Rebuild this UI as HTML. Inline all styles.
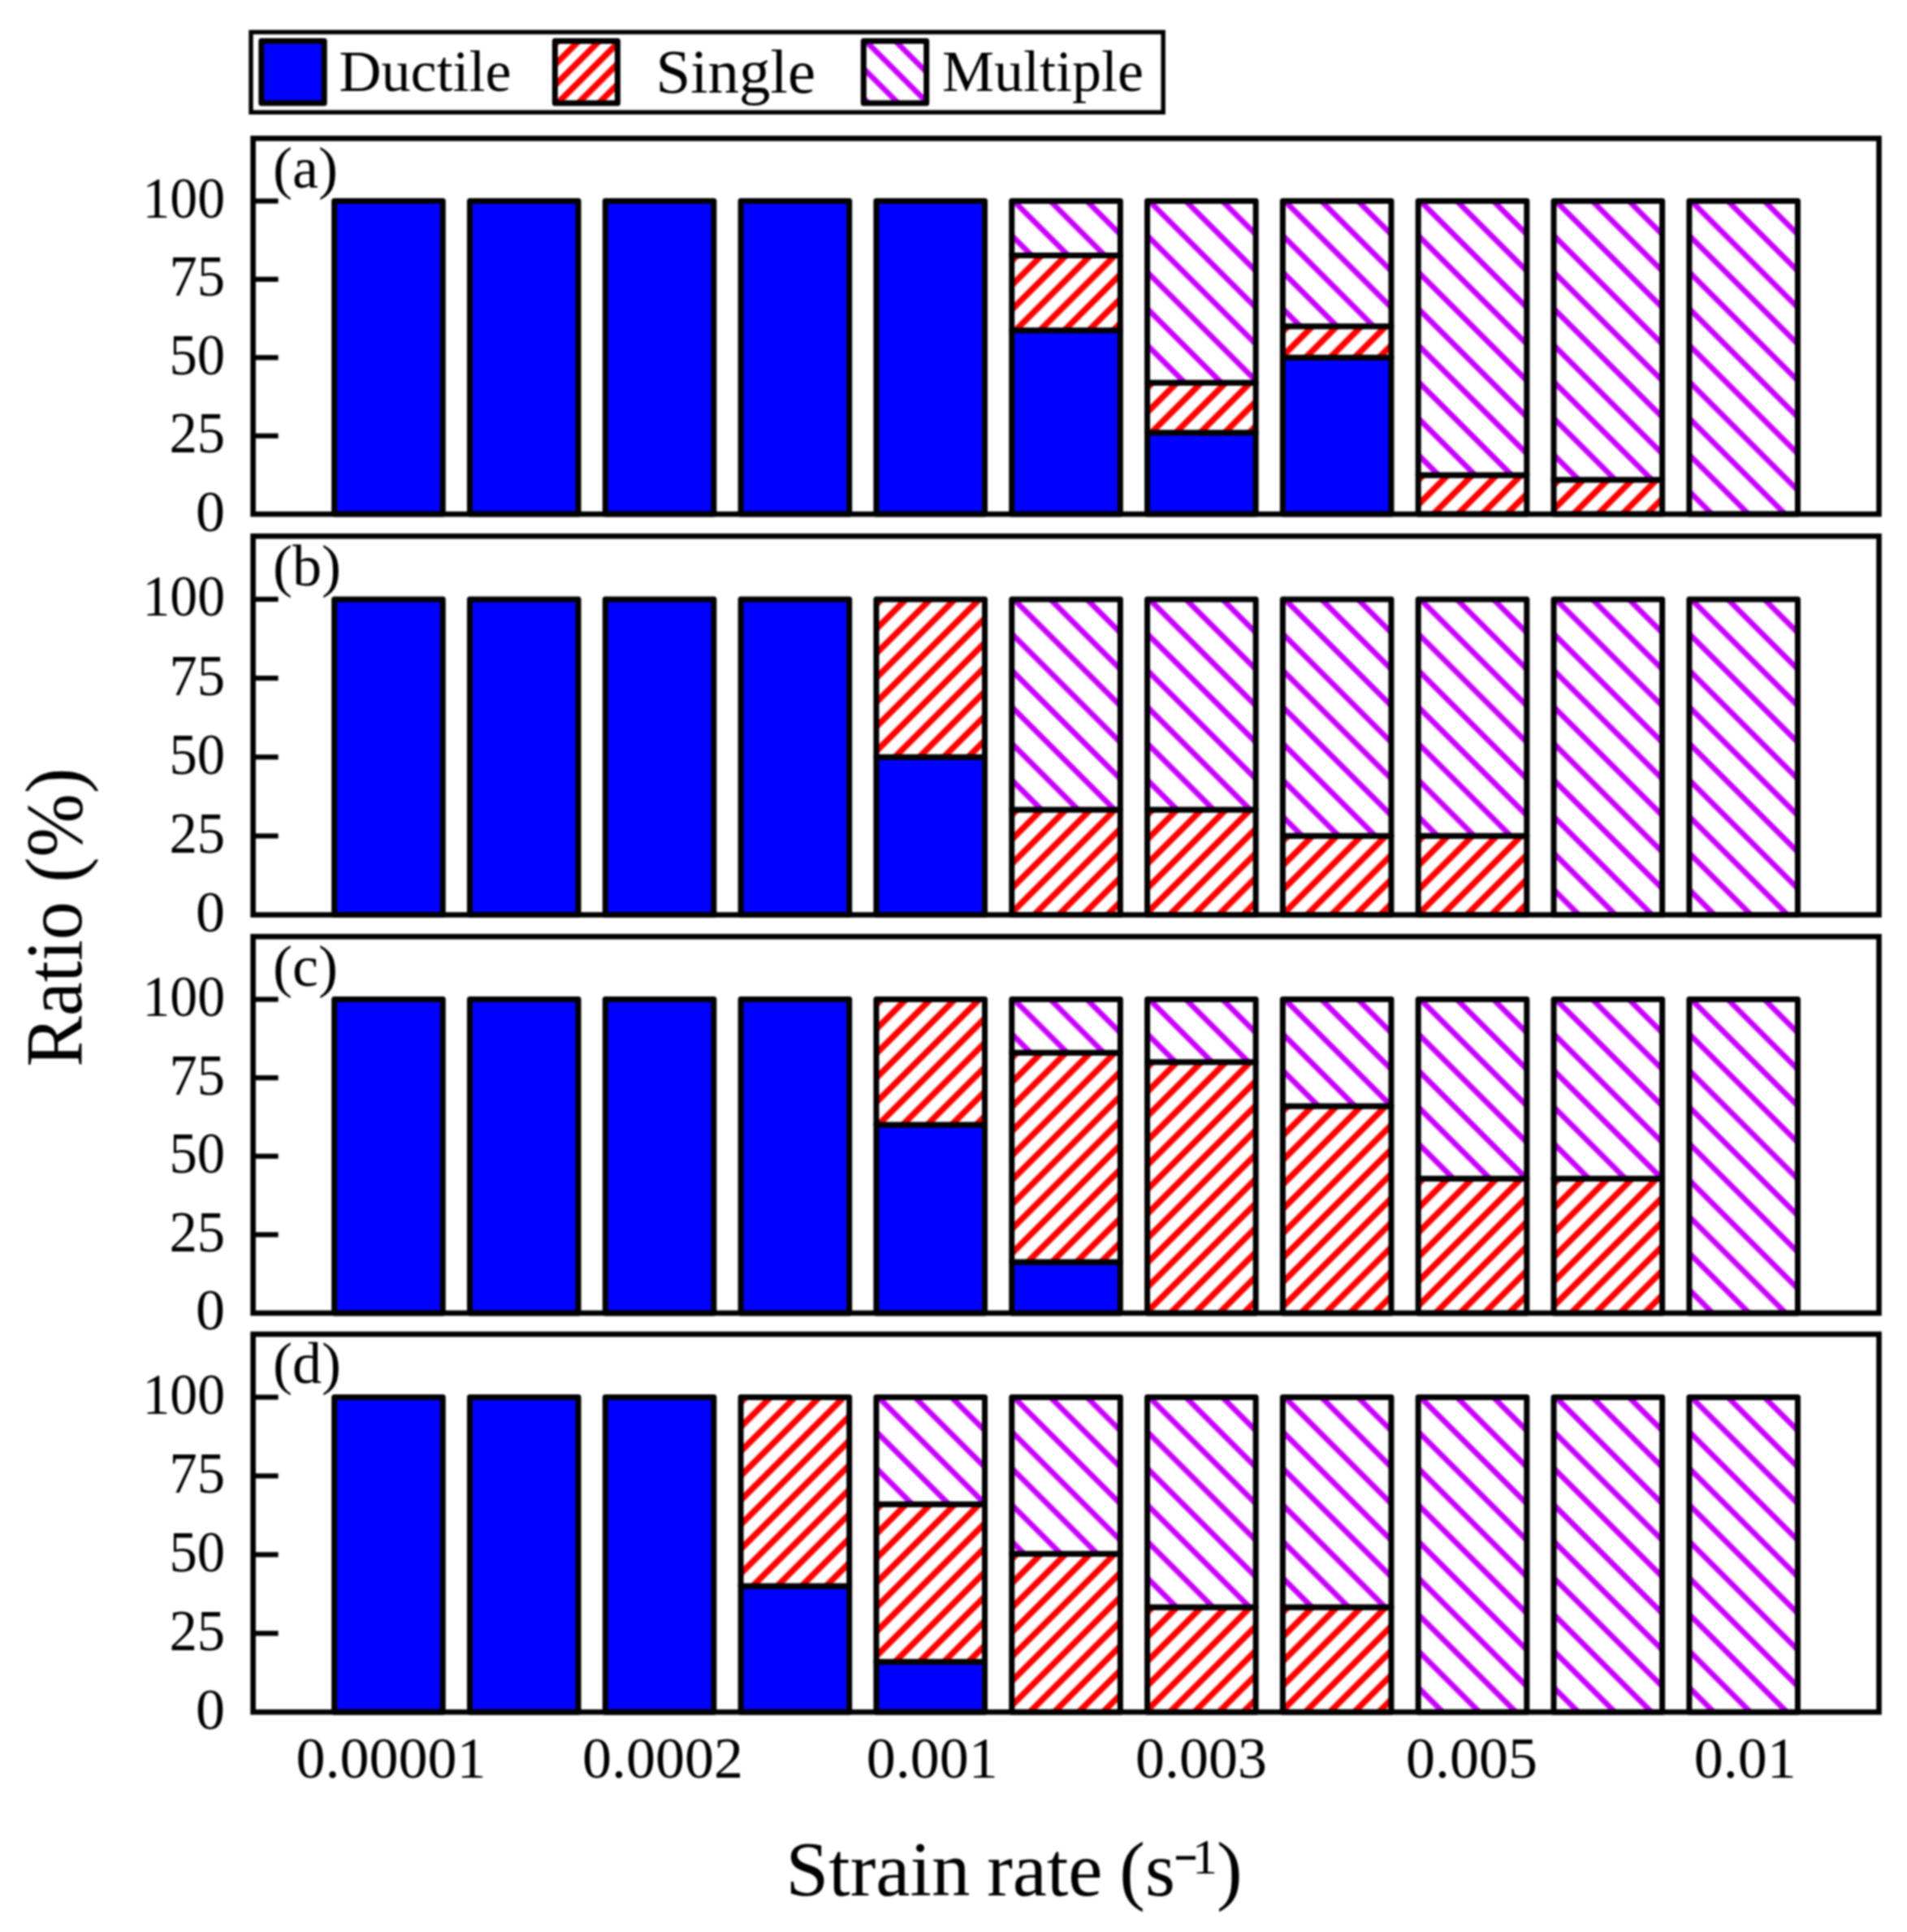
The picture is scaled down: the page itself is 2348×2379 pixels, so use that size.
<!DOCTYPE html>
<html lang="en"><head><meta charset="utf-8"><title>Ratio vs strain rate</title>
<style>html,body{margin:0;padding:0;background:#fff}body{width:2348px;height:2379px;overflow:hidden}svg{display:block;filter:blur(0.9px)}text{font-family:'Liberation Serif', serif;fill:#000}</style></head><body>
<svg width="2348" height="2379" viewBox="0 0 2348 2379" role="img" aria-label="Stacked bar chart of failure-mode ratio versus strain rate">
<rect x="0" y="0" width="2348" height="2379" fill="#fff"/>
<defs>
<pattern id="hr" patternUnits="userSpaceOnUse" width="21.28" height="40" patternTransform="rotate(45)"><rect x="0" y="0" width="21.28" height="40" fill="#fff"/><rect x="-20.49" y="0" width="7.6" height="40" fill="#ff0000"/><rect x="0.8" y="0" width="7.6" height="40" fill="#ff0000"/><rect x="22.08" y="0" width="7.6" height="40" fill="#ff0000"/></pattern>
<pattern id="hp" patternUnits="userSpaceOnUse" width="31.82" height="40" patternTransform="rotate(-45)"><rect x="0" y="0" width="31.82" height="40" fill="#fff"/><rect x="-33.45" y="0" width="6.8" height="40" fill="#c800ff"/><rect x="-1.63" y="0" width="6.8" height="40" fill="#c800ff"/><rect x="30.19" y="0" width="6.8" height="40" fill="#c800ff"/></pattern>
<pattern id="hrl" patternUnits="userSpaceOnUse" width="17.89" height="40" patternTransform="rotate(45)"><rect x="0" y="0" width="17.89" height="40" fill="#fff"/><rect x="-18.86" y="0" width="7.6" height="40" fill="#ff0000"/><rect x="-0.97" y="0" width="7.6" height="40" fill="#ff0000"/><rect x="16.92" y="0" width="7.6" height="40" fill="#ff0000"/></pattern>
<pattern id="hpl" patternUnits="userSpaceOnUse" width="25.81" height="40" patternTransform="rotate(-45)"><rect x="0" y="0" width="25.81" height="40" fill="#fff"/><rect x="-27.44" y="0" width="6.8" height="40" fill="#c800ff"/><rect x="-1.63" y="0" width="6.8" height="40" fill="#c800ff"/><rect x="24.18" y="0" width="6.8" height="40" fill="#c800ff"/></pattern>
</defs>
<g id="legend">
<rect x="309" y="39.6" width="1123.2" height="98.7" fill="#fff" stroke="#000" stroke-width="5.4"/>
<rect x="321.8" y="50.4" width="77.4" height="76.7" fill="#0000ff" stroke="#000" stroke-width="7" stroke-linejoin="round"/>
<g transform="translate(683.3,50.4)"><rect x="0" y="0" width="77.1" height="76.7" fill="url(#hrl)" stroke="#000" stroke-width="7" stroke-linejoin="round"/></g>
<g transform="translate(1063.3,50.4)"><rect x="0" y="0" width="77.4" height="76.7" fill="url(#hpl)" stroke="#000" stroke-width="7" stroke-linejoin="round"/></g>
<text x="417.5" y="112.3" font-size="72">Ductile</text>
<text x="807.4" y="114" font-size="77">Single</text>
<text x="1160" y="112.3" font-size="72">Multiple</text>
</g>
<g id="panel-a">
<rect x="411.63" y="247.52" width="133.6" height="385.58" fill="#0000ff" stroke="#000" stroke-width="7" stroke-linejoin="round"/>
<rect x="578.45" y="247.52" width="133.6" height="385.58" fill="#0000ff" stroke="#000" stroke-width="7" stroke-linejoin="round"/>
<rect x="745.28" y="247.52" width="133.6" height="385.58" fill="#0000ff" stroke="#000" stroke-width="7" stroke-linejoin="round"/>
<rect x="912.1" y="247.52" width="133.6" height="385.58" fill="#0000ff" stroke="#000" stroke-width="7" stroke-linejoin="round"/>
<rect x="1078.93" y="247.52" width="133.6" height="385.58" fill="#0000ff" stroke="#000" stroke-width="7" stroke-linejoin="round"/>
<rect x="1245.75" y="406.76" width="133.6" height="226.34" fill="#0000ff" stroke="#000" stroke-width="7" stroke-linejoin="round"/>
<g transform="translate(1245.75,314.61)"><rect x="0" y="0" width="133.6" height="92.15" fill="url(#hr)" stroke="#000" stroke-width="7" stroke-linejoin="round"/></g>
<g transform="translate(1245.75,247.52)"><rect x="0" y="0" width="133.6" height="67.09" fill="url(#hp)" stroke="#000" stroke-width="7" stroke-linejoin="round"/></g>
<rect x="1412.58" y="532.85" width="133.6" height="100.25" fill="#0000ff" stroke="#000" stroke-width="7" stroke-linejoin="round"/>
<g transform="translate(1412.58,471.16)"><rect x="0" y="0" width="133.6" height="61.69" fill="url(#hr)" stroke="#000" stroke-width="7" stroke-linejoin="round"/></g>
<g transform="translate(1412.58,247.52)"><rect x="0" y="0" width="133.6" height="223.64" fill="url(#hp)" stroke="#000" stroke-width="7" stroke-linejoin="round"/></g>
<rect x="1579.4" y="440.31" width="133.6" height="192.79" fill="#0000ff" stroke="#000" stroke-width="7" stroke-linejoin="round"/>
<g transform="translate(1579.4,401.75)"><rect x="0" y="0" width="133.6" height="38.56" fill="url(#hr)" stroke="#000" stroke-width="7" stroke-linejoin="round"/></g>
<g transform="translate(1579.4,247.52)"><rect x="0" y="0" width="133.6" height="154.23" fill="url(#hp)" stroke="#000" stroke-width="7" stroke-linejoin="round"/></g>
<g transform="translate(1746.23,584.9)"><rect x="0" y="0" width="133.6" height="48.2" fill="url(#hr)" stroke="#000" stroke-width="7" stroke-linejoin="round"/></g>
<g transform="translate(1746.23,247.52)"><rect x="0" y="0" width="133.6" height="337.39" fill="url(#hp)" stroke="#000" stroke-width="7" stroke-linejoin="round"/></g>
<g transform="translate(1913.05,590.69)"><rect x="0" y="0" width="133.6" height="42.41" fill="url(#hr)" stroke="#000" stroke-width="7" stroke-linejoin="round"/></g>
<g transform="translate(1913.05,247.52)"><rect x="0" y="0" width="133.6" height="343.17" fill="url(#hp)" stroke="#000" stroke-width="7" stroke-linejoin="round"/></g>
<g transform="translate(2079.88,247.52)"><rect x="0" y="0" width="133.6" height="385.58" fill="url(#hp)" stroke="#000" stroke-width="7" stroke-linejoin="round"/></g>
<rect x="311.6" y="170.4" width="2001.9" height="462.7" fill="none" stroke="#000" stroke-width="6.6"/>
<text x="277" y="653.6" font-size="72" text-anchor="end">0</text>
<line x1="311.6" y1="536.7" x2="342.6" y2="536.7" stroke="#000" stroke-width="6.2"/>
<text x="277" y="557.2" font-size="72" text-anchor="end" textLength="68.6" lengthAdjust="spacingAndGlyphs">25</text>
<line x1="311.6" y1="440.31" x2="342.6" y2="440.31" stroke="#000" stroke-width="6.2"/>
<text x="277" y="460.81" font-size="72" text-anchor="end" textLength="68.6" lengthAdjust="spacingAndGlyphs">50</text>
<line x1="311.6" y1="343.91" x2="342.6" y2="343.91" stroke="#000" stroke-width="6.2"/>
<text x="277" y="364.41" font-size="72" text-anchor="end" textLength="68.6" lengthAdjust="spacingAndGlyphs">75</text>
<line x1="311.6" y1="247.52" x2="342.6" y2="247.52" stroke="#000" stroke-width="6.2"/>
<text x="277" y="268.02" font-size="72" text-anchor="end" textLength="101.5" lengthAdjust="spacingAndGlyphs">100</text>
<text x="336" y="230.9" font-size="72">(a)</text>
</g>
<g id="panel-b">
<rect x="411.63" y="737.92" width="133.6" height="388.58" fill="#0000ff" stroke="#000" stroke-width="7" stroke-linejoin="round"/>
<rect x="578.45" y="737.92" width="133.6" height="388.58" fill="#0000ff" stroke="#000" stroke-width="7" stroke-linejoin="round"/>
<rect x="745.28" y="737.92" width="133.6" height="388.58" fill="#0000ff" stroke="#000" stroke-width="7" stroke-linejoin="round"/>
<rect x="912.1" y="737.92" width="133.6" height="388.58" fill="#0000ff" stroke="#000" stroke-width="7" stroke-linejoin="round"/>
<rect x="1078.93" y="932.21" width="133.6" height="194.29" fill="#0000ff" stroke="#000" stroke-width="7" stroke-linejoin="round"/>
<g transform="translate(1078.93,737.92)"><rect x="0" y="0" width="133.6" height="194.29" fill="url(#hr)" stroke="#000" stroke-width="7" stroke-linejoin="round"/></g>
<g transform="translate(1245.75,997.1)"><rect x="0" y="0" width="133.6" height="129.4" fill="url(#hr)" stroke="#000" stroke-width="7" stroke-linejoin="round"/></g>
<g transform="translate(1245.75,737.92)"><rect x="0" y="0" width="133.6" height="259.19" fill="url(#hp)" stroke="#000" stroke-width="7" stroke-linejoin="round"/></g>
<g transform="translate(1412.58,997.1)"><rect x="0" y="0" width="133.6" height="129.4" fill="url(#hr)" stroke="#000" stroke-width="7" stroke-linejoin="round"/></g>
<g transform="translate(1412.58,737.92)"><rect x="0" y="0" width="133.6" height="259.19" fill="url(#hp)" stroke="#000" stroke-width="7" stroke-linejoin="round"/></g>
<g transform="translate(1579.4,1029.35)"><rect x="0" y="0" width="133.6" height="97.15" fill="url(#hr)" stroke="#000" stroke-width="7" stroke-linejoin="round"/></g>
<g transform="translate(1579.4,737.92)"><rect x="0" y="0" width="133.6" height="291.44" fill="url(#hp)" stroke="#000" stroke-width="7" stroke-linejoin="round"/></g>
<g transform="translate(1746.23,1029.35)"><rect x="0" y="0" width="133.6" height="97.15" fill="url(#hr)" stroke="#000" stroke-width="7" stroke-linejoin="round"/></g>
<g transform="translate(1746.23,737.92)"><rect x="0" y="0" width="133.6" height="291.44" fill="url(#hp)" stroke="#000" stroke-width="7" stroke-linejoin="round"/></g>
<g transform="translate(1913.05,737.92)"><rect x="0" y="0" width="133.6" height="388.58" fill="url(#hp)" stroke="#000" stroke-width="7" stroke-linejoin="round"/></g>
<g transform="translate(2079.88,737.92)"><rect x="0" y="0" width="133.6" height="388.58" fill="url(#hp)" stroke="#000" stroke-width="7" stroke-linejoin="round"/></g>
<rect x="311.6" y="660.2" width="2001.9" height="466.3" fill="none" stroke="#000" stroke-width="6.6"/>
<text x="277" y="1147" font-size="72" text-anchor="end">0</text>
<line x1="311.6" y1="1029.35" x2="342.6" y2="1029.35" stroke="#000" stroke-width="6.2"/>
<text x="277" y="1049.85" font-size="72" text-anchor="end" textLength="68.6" lengthAdjust="spacingAndGlyphs">25</text>
<line x1="311.6" y1="932.21" x2="342.6" y2="932.21" stroke="#000" stroke-width="6.2"/>
<text x="277" y="952.71" font-size="72" text-anchor="end" textLength="68.6" lengthAdjust="spacingAndGlyphs">50</text>
<line x1="311.6" y1="835.06" x2="342.6" y2="835.06" stroke="#000" stroke-width="6.2"/>
<text x="277" y="855.56" font-size="72" text-anchor="end" textLength="68.6" lengthAdjust="spacingAndGlyphs">75</text>
<line x1="311.6" y1="737.92" x2="342.6" y2="737.92" stroke="#000" stroke-width="6.2"/>
<text x="277" y="758.42" font-size="72" text-anchor="end" textLength="101.5" lengthAdjust="spacingAndGlyphs">100</text>
<text x="336" y="720.7" font-size="72">(b)</text>
</g>
<g id="panel-c">
<rect x="411.63" y="1230.57" width="133.6" height="386.33" fill="#0000ff" stroke="#000" stroke-width="7" stroke-linejoin="round"/>
<rect x="578.45" y="1230.57" width="133.6" height="386.33" fill="#0000ff" stroke="#000" stroke-width="7" stroke-linejoin="round"/>
<rect x="745.28" y="1230.57" width="133.6" height="386.33" fill="#0000ff" stroke="#000" stroke-width="7" stroke-linejoin="round"/>
<rect x="912.1" y="1230.57" width="133.6" height="386.33" fill="#0000ff" stroke="#000" stroke-width="7" stroke-linejoin="round"/>
<rect x="1078.93" y="1385.1" width="133.6" height="231.8" fill="#0000ff" stroke="#000" stroke-width="7" stroke-linejoin="round"/>
<g transform="translate(1078.93,1230.57)"><rect x="0" y="0" width="133.6" height="154.53" fill="url(#hr)" stroke="#000" stroke-width="7" stroke-linejoin="round"/></g>
<rect x="1245.75" y="1553.93" width="133.6" height="62.97" fill="#0000ff" stroke="#000" stroke-width="7" stroke-linejoin="round"/>
<g transform="translate(1245.75,1296.24)"><rect x="0" y="0" width="133.6" height="257.68" fill="url(#hr)" stroke="#000" stroke-width="7" stroke-linejoin="round"/></g>
<g transform="translate(1245.75,1230.57)"><rect x="0" y="0" width="133.6" height="65.68" fill="url(#hp)" stroke="#000" stroke-width="7" stroke-linejoin="round"/></g>
<g transform="translate(1412.58,1307.83)"><rect x="0" y="0" width="133.6" height="309.07" fill="url(#hr)" stroke="#000" stroke-width="7" stroke-linejoin="round"/></g>
<g transform="translate(1412.58,1230.57)"><rect x="0" y="0" width="133.6" height="77.27" fill="url(#hp)" stroke="#000" stroke-width="7" stroke-linejoin="round"/></g>
<g transform="translate(1579.4,1361.92)"><rect x="0" y="0" width="133.6" height="254.98" fill="url(#hr)" stroke="#000" stroke-width="7" stroke-linejoin="round"/></g>
<g transform="translate(1579.4,1230.57)"><rect x="0" y="0" width="133.6" height="131.35" fill="url(#hp)" stroke="#000" stroke-width="7" stroke-linejoin="round"/></g>
<g transform="translate(1746.23,1451.16)"><rect x="0" y="0" width="133.6" height="165.74" fill="url(#hr)" stroke="#000" stroke-width="7" stroke-linejoin="round"/></g>
<g transform="translate(1746.23,1230.57)"><rect x="0" y="0" width="133.6" height="220.6" fill="url(#hp)" stroke="#000" stroke-width="7" stroke-linejoin="round"/></g>
<g transform="translate(1913.05,1451.16)"><rect x="0" y="0" width="133.6" height="165.74" fill="url(#hr)" stroke="#000" stroke-width="7" stroke-linejoin="round"/></g>
<g transform="translate(1913.05,1230.57)"><rect x="0" y="0" width="133.6" height="220.6" fill="url(#hp)" stroke="#000" stroke-width="7" stroke-linejoin="round"/></g>
<g transform="translate(2079.88,1230.57)"><rect x="0" y="0" width="133.6" height="386.33" fill="url(#hp)" stroke="#000" stroke-width="7" stroke-linejoin="round"/></g>
<rect x="311.6" y="1153.3" width="2001.9" height="463.6" fill="none" stroke="#000" stroke-width="6.6"/>
<text x="277" y="1637.4" font-size="72" text-anchor="end">0</text>
<line x1="311.6" y1="1520.32" x2="342.6" y2="1520.32" stroke="#000" stroke-width="6.2"/>
<text x="277" y="1540.82" font-size="72" text-anchor="end" textLength="68.6" lengthAdjust="spacingAndGlyphs">25</text>
<line x1="311.6" y1="1423.73" x2="342.6" y2="1423.73" stroke="#000" stroke-width="6.2"/>
<text x="277" y="1444.23" font-size="72" text-anchor="end" textLength="68.6" lengthAdjust="spacingAndGlyphs">50</text>
<line x1="311.6" y1="1327.15" x2="342.6" y2="1327.15" stroke="#000" stroke-width="6.2"/>
<text x="277" y="1347.65" font-size="72" text-anchor="end" textLength="68.6" lengthAdjust="spacingAndGlyphs">75</text>
<line x1="311.6" y1="1230.57" x2="342.6" y2="1230.57" stroke="#000" stroke-width="6.2"/>
<text x="277" y="1251.07" font-size="72" text-anchor="end" textLength="101.5" lengthAdjust="spacingAndGlyphs">100</text>
<text x="336" y="1213.8" font-size="72">(c)</text>
</g>
<g id="panel-d">
<rect x="411.63" y="1720.45" width="133.6" height="387.75" fill="#0000ff" stroke="#000" stroke-width="7" stroke-linejoin="round"/>
<rect x="578.45" y="1720.45" width="133.6" height="387.75" fill="#0000ff" stroke="#000" stroke-width="7" stroke-linejoin="round"/>
<rect x="745.28" y="1720.45" width="133.6" height="387.75" fill="#0000ff" stroke="#000" stroke-width="7" stroke-linejoin="round"/>
<rect x="912.1" y="1953.1" width="133.6" height="155.1" fill="#0000ff" stroke="#000" stroke-width="7" stroke-linejoin="round"/>
<g transform="translate(912.1,1720.45)"><rect x="0" y="0" width="133.6" height="232.65" fill="url(#hr)" stroke="#000" stroke-width="7" stroke-linejoin="round"/></g>
<rect x="1078.93" y="2046.16" width="133.6" height="62.04" fill="#0000ff" stroke="#000" stroke-width="7" stroke-linejoin="round"/>
<g transform="translate(1078.93,1852.28)"><rect x="0" y="0" width="133.6" height="193.88" fill="url(#hr)" stroke="#000" stroke-width="7" stroke-linejoin="round"/></g>
<g transform="translate(1078.93,1720.45)"><rect x="0" y="0" width="133.6" height="131.84" fill="url(#hp)" stroke="#000" stroke-width="7" stroke-linejoin="round"/></g>
<g transform="translate(1245.75,1913.16)"><rect x="0" y="0" width="133.6" height="195.04" fill="url(#hr)" stroke="#000" stroke-width="7" stroke-linejoin="round"/></g>
<g transform="translate(1245.75,1720.45)"><rect x="0" y="0" width="133.6" height="192.71" fill="url(#hp)" stroke="#000" stroke-width="7" stroke-linejoin="round"/></g>
<g transform="translate(1412.58,1979.08)"><rect x="0" y="0" width="133.6" height="129.12" fill="url(#hr)" stroke="#000" stroke-width="7" stroke-linejoin="round"/></g>
<g transform="translate(1412.58,1720.45)"><rect x="0" y="0" width="133.6" height="258.63" fill="url(#hp)" stroke="#000" stroke-width="7" stroke-linejoin="round"/></g>
<g transform="translate(1579.4,1979.08)"><rect x="0" y="0" width="133.6" height="129.12" fill="url(#hr)" stroke="#000" stroke-width="7" stroke-linejoin="round"/></g>
<g transform="translate(1579.4,1720.45)"><rect x="0" y="0" width="133.6" height="258.63" fill="url(#hp)" stroke="#000" stroke-width="7" stroke-linejoin="round"/></g>
<g transform="translate(1746.23,1720.45)"><rect x="0" y="0" width="133.6" height="387.75" fill="url(#hp)" stroke="#000" stroke-width="7" stroke-linejoin="round"/></g>
<g transform="translate(1913.05,1720.45)"><rect x="0" y="0" width="133.6" height="387.75" fill="url(#hp)" stroke="#000" stroke-width="7" stroke-linejoin="round"/></g>
<g transform="translate(2079.88,1720.45)"><rect x="0" y="0" width="133.6" height="387.75" fill="url(#hp)" stroke="#000" stroke-width="7" stroke-linejoin="round"/></g>
<rect x="311.6" y="1642.9" width="2001.9" height="465.3" fill="none" stroke="#000" stroke-width="6.6"/>
<text x="277" y="2128.7" font-size="72" text-anchor="end">0</text>
<line x1="311.6" y1="2011.26" x2="342.6" y2="2011.26" stroke="#000" stroke-width="6.2"/>
<text x="277" y="2031.76" font-size="72" text-anchor="end" textLength="68.6" lengthAdjust="spacingAndGlyphs">25</text>
<line x1="311.6" y1="1914.32" x2="342.6" y2="1914.32" stroke="#000" stroke-width="6.2"/>
<text x="277" y="1934.82" font-size="72" text-anchor="end" textLength="68.6" lengthAdjust="spacingAndGlyphs">50</text>
<line x1="311.6" y1="1817.39" x2="342.6" y2="1817.39" stroke="#000" stroke-width="6.2"/>
<text x="277" y="1837.89" font-size="72" text-anchor="end" textLength="68.6" lengthAdjust="spacingAndGlyphs">75</text>
<line x1="311.6" y1="1720.45" x2="342.6" y2="1720.45" stroke="#000" stroke-width="6.2"/>
<text x="277" y="1740.95" font-size="72" text-anchor="end" textLength="101.5" lengthAdjust="spacingAndGlyphs">100</text>
<text x="336" y="1703.4" font-size="72">(d)</text>
</g>
<g id="xlabels">
<text x="481.43" y="2188.5" font-size="72" text-anchor="middle">0.00001</text>
<text x="816.08" y="2188.5" font-size="72" text-anchor="middle">0.0002</text>
<text x="1147.73" y="2188.5" font-size="72" text-anchor="middle">0.001</text>
<text x="1478.88" y="2188.5" font-size="72" text-anchor="middle">0.003</text>
<text x="1812.03" y="2188.5" font-size="72" text-anchor="middle">0.005</text>
<text x="2148.68" y="2188.5" font-size="72" text-anchor="middle">0.01</text>
</g>
<text x="967.5" y="2333.5" font-size="95" word-spacing="-3">Strain rate (s</text>
<text transform="translate(1444.5,2302.4) scale(1.5,1)" font-size="62">-</text>
<text x="1468" y="2307" font-size="62">1</text>
<text x="1498" y="2333.5" font-size="95">)</text>
<text transform="translate(100.3,1129.8) rotate(-90) scale(0.94,1)" font-size="100" text-anchor="middle">Ratio (%)</text>
</svg></body></html>
